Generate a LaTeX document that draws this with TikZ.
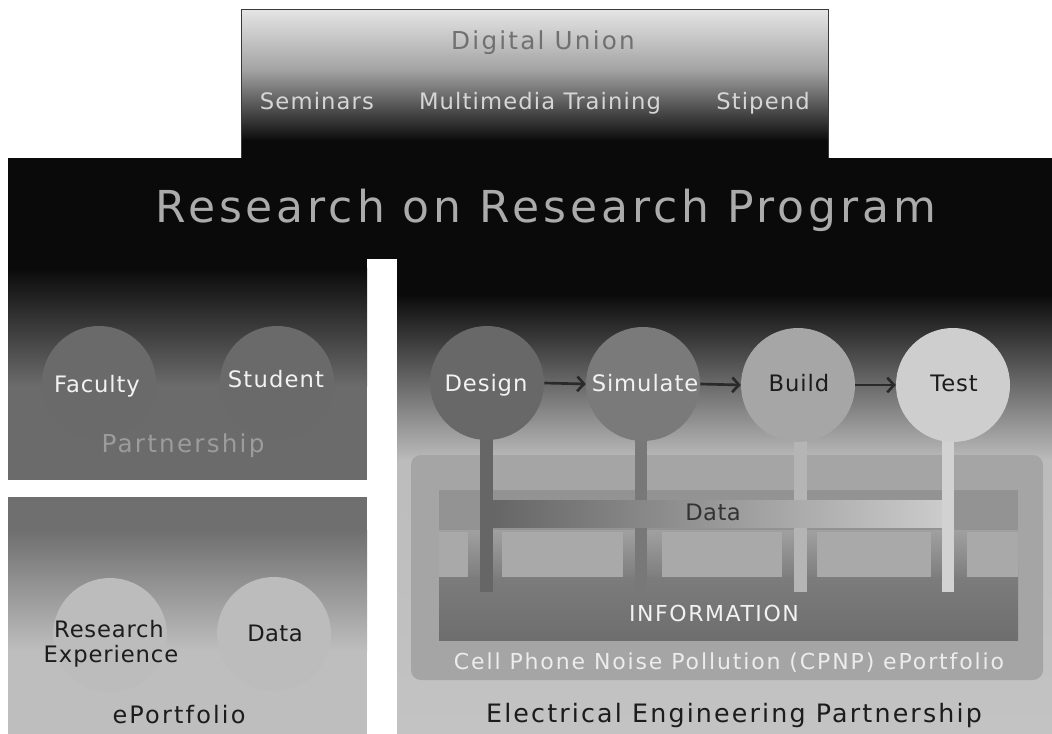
\documentclass[tikz,border=0pt]{standalone}
\usepackage{fontspec}
\setmainfont{DejaVu Sans}
\usetikzlibrary{arrows.meta}
\definecolor{bandc}{HTML}{0A0A0A}
\definecolor{duA}{HTML}{E4E4E4}
\definecolor{duB}{HTML}{A2A2A2}
\definecolor{boxline}{HTML}{3A3A3A}
\definecolor{duText}{HTML}{707070}
\definecolor{semc}{HTML}{D6D6D6}
\definecolor{titlec}{HTML}{ABABAB}
\definecolor{ltp}{HTML}{6B6B6B}
\definecolor{facc}{HTML}{6A6A6A}
\definecolor{ftext}{HTML}{F2F2F2}
\definecolor{partc}{HTML}{9C9C9C}
\definecolor{lbtop}{HTML}{6F6F6F}
\definecolor{lbbot}{HTML}{BEBEBE}
\definecolor{lbcirc}{HTML}{BCBCBC}
\definecolor{darktext}{HTML}{1C1C1C}
\definecolor{rpbot}{HTML}{BCBCBC}
\definecolor{rpend}{HTML}{C3C3C3}
\definecolor{rrc}{HTML}{A5A5A5}
\definecolor{bandd}{HTML}{939393}
\definecolor{shA}{HTML}{A0A0A0}
\definecolor{shB}{HTML}{7E7E7E}
\definecolor{lightr}{HTML}{A9A9A9}
\definecolor{infA}{HTML}{7C7C7C}
\definecolor{infB}{HTML}{6E6E6E}
\definecolor{desc}{HTML}{686868}
\definecolor{simc}{HTML}{7A7A7A}
\definecolor{buic}{HTML}{A6A6A6}
\definecolor{tesc}{HTML}{CECECE}
\definecolor{dstem}{HTML}{666666}
\definecolor{sstem}{HTML}{787878}
\definecolor{bstem}{HTML}{B5B5B5}
\definecolor{tstem}{HTML}{D2D2D2}
\definecolor{barL}{HTML}{666666}
\definecolor{barM}{HTML}{8C8C8C}
\definecolor{barR}{HTML}{CBCBCB}
\definecolor{arrowc}{HTML}{2A2A2A}
\definecolor{bartext}{HTML}{333333}
\definecolor{celltext}{HTML}{ECECEC}
\begin{document}
\begin{tikzpicture}[x=0.75pt,y=-0.75pt,
  lab/.style n args={3}{anchor=base,inner sep=0pt,text=#3,
    font={\fontsize{#1}{#1}\selectfont\addfontfeature{LetterSpace=#2}}},
  disc/.style={circle,inner sep=0pt,minimum size=85.5pt,fill=#1},
  flow/.style={draw=arrowc,line width=2pt,
    -{Straight Barb[length=5pt,width=11pt,line width=2pt]}}]
\useasboundingbox (0,0) rectangle (1052,734);
\fill[white] (0,0) rectangle (1052,734);

% Digital Union box
\shade[top color=duA,bottom color=duB] (241,10) rectangle (828,71);
\shade[top color=duB,bottom color=bandc] (241,70) rectangle (828,141);
\fill[bandc] (241,140) rectangle (828,160);
\draw[boxline,line width=0.75pt] (241,160) -- (241,10) -- (828,10) -- (828,160);

% main band
\fill[bandc] (8,158) rectangle (1052,259);

% left top panel
\fill[bandc] (8,258) rectangle (367,269);
\shade[top color=bandc,bottom color=ltp] (8,268) rectangle (367,386);
\fill[ltp] (8,385) rectangle (367,480);

% left bottom panel
\fill[lbtop] (8,497) rectangle (367,531);
\shade[top color=lbtop,bottom color=lbbot] (8,530) rectangle (367,651);
\fill[lbbot] (8,650) rectangle (367,734);

% right panel
\fill[bandc] (397,258) rectangle (1052,295);
\shade[top color=bandc,bottom color=rpbot] (397,294) rectangle (1052,461);
\shade[top color=rpbot,bottom color=rpend] (397,460) rectangle (1052,734);

% CPNP ePortfolio block
\fill[rrc,rounded corners=7.5pt] (411,455) rectangle (1043,680);
\fill[bandd] (439,490) rectangle (1018,530);
\shade[top color=shA,bottom color=shB] (439,530) rectangle (1018,577);
\foreach \a/\b in {439/468,502/623,662/782,817/931,967/1018}
  \fill[lightr] (\a,532) rectangle (\b,577);
\shade[top color=infA,bottom color=infB] (439,577) rectangle (1018,640);

% stems
\fill[dstem] (480,400) rectangle (493,592);
\fill[sstem] (635,400) rectangle (647,592);
\fill[bstem] (794,400) rectangle (807,592);
\fill[tstem] (942,400) rectangle (954,592);

% data bar
\shade[left color=barL,middle color=barM,right color=barR] (493,500) rectangle (942,527);

% circles
\node[disc=facc] (faculty) at (99,383) {};
\node[disc=facc] (student) at (277,383) {};
\node[disc=lbcirc] (resexp) at (110,635) {};
\node[disc=lbcirc] (datacirc) at (274,634) {};
\node[disc=desc] (design) at (487,383) {};
\node[disc=simc] (simulate) at (643,384) {};
\node[disc=buic] (build) at (798,385) {};
\node[disc=tesc] (test) at (953,385) {};

% arrows
\draw[flow] (design.east) -- (simulate.west);
\draw[flow] (simulate.east) -- (build.west);
\draw[flow] (build.east) -- (test.west);

% texts
\node[lab={18.5}{9}{duText}] (digital) at (543,50) {Digital Union};
\node[lab={17}{5}{semc}] (seminars) at (317,110) {Seminars};
\node[lab={17}{5}{semc}] (multimedia) at (540,110) {Multimedia Training};
\node[lab={17}{5}{semc}] (stipend) at (763,110) {Stipend};
\node[lab={33}{9}{titlec}] (title) at (546,223) {Research on Research Program};

\node[lab={17}{4}{ftext}] (facultyt) at (97,392) {Faculty};
\node[lab={17}{5}{ftext}] (studentt) at (276,387) {Student};
\node[lab={18.5}{9}{partc}] (partnership) at (183,452) {Partnership};

\node[lab={17}{3.5}{darktext}] (researcht) at (109,637) {Research};
\node[lab={17}{4}{darktext}] (experiencet) at (111,662) {Experience};
\node[lab={17}{2}{darktext}] (datat) at (275,641) {Data};
\node[lab={18}{9}{darktext}] (eportfolio) at (179,723) {ePortfolio};

\node[lab={17}{4}{ftext}] (designt) at (486,391) {Design};
\node[lab={17}{4}{ftext}] (simulatet) at (645,391) {Simulate};
\node[lab={17}{4}{darktext}] (buildt) at (799,391) {Build};
\node[lab={17}{4}{darktext}] (testt) at (954,391) {Test};

\node[lab={17}{2}{bartext}] (bardata) at (713,520) {Data};
\node[lab={16.5}{7}{ftext}] (information) at (714,621) {INFORMATION};
\node[lab={16.5}{8.5}{celltext}] (cpnp) at (729,669) {Cell Phone Noise Pollution (CPNP) ePortfolio};
\node[lab={19}{8.5}{darktext}] (electrical) at (734,722) {Electrical Engineering Partnership};
\end{tikzpicture}
\end{document}
